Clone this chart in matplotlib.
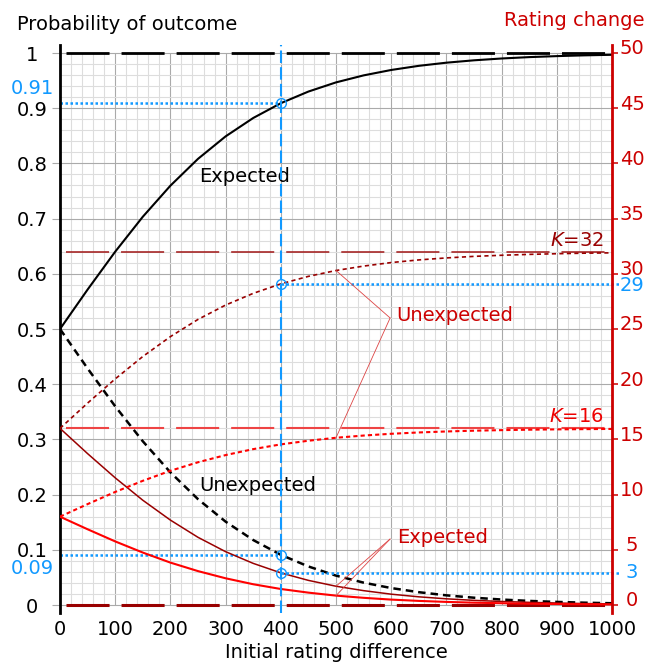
import numpy as np
import matplotlib.pyplot as plt

# rating difference sampled every 50 points
diff = np.arange(0, 1001, 50)

# probability that the higher rated player wins / loses
p_expected = [0.5, 0.5715, 0.6401, 0.7034, 0.7597, 0.8083, 0.8490, 0.8823, 0.9091, 0.9302,
              0.9468, 0.9595, 0.9693, 0.9768, 0.9825, 0.9868, 0.9901, 0.9926, 0.9944, 0.9958, 0.9968]
p_unexpected = [0.5, 0.4285, 0.3599, 0.2966, 0.2403, 0.1917, 0.1510, 0.1177, 0.0909, 0.0698,
                0.0532, 0.0405, 0.0307, 0.0232, 0.0175, 0.0132, 0.0099, 0.0074, 0.0056, 0.0042, 0.0032]

# rating points exchanged for K=32 and K=16
k32_expected = [16.0, 13.71, 11.52, 9.49, 7.69, 6.13, 4.83, 3.77, 2.91, 2.23, 1.70,
                1.30, 0.98, 0.74, 0.56, 0.42, 0.32, 0.24, 0.18, 0.13, 0.10]
k32_unexpected = [16.0, 18.29, 20.48, 22.51, 24.31, 25.87, 27.17, 28.23, 29.09, 29.77, 30.30,
                  30.70, 31.02, 31.26, 31.44, 31.58, 31.68, 31.76, 31.82, 31.87, 31.90]
k16_expected = [8.0, 6.86, 5.76, 4.75, 3.84, 3.07, 2.42, 1.88, 1.45, 1.12, 0.85,
                0.65, 0.49, 0.37, 0.28, 0.21, 0.16, 0.12, 0.09, 0.07, 0.05]
k16_unexpected = [8.0, 9.14, 10.24, 11.25, 12.16, 12.93, 13.58, 14.12, 14.55, 14.88, 15.15,
                  15.35, 15.51, 15.63, 15.72, 15.79, 15.84, 15.88, 15.91, 15.93, 15.95]

k_values = [32, 16]
marked_diff = 400
note_diff = 500

x_ticks = list(range(0, 1001, 100))
y_ticks = [i / 10 for i in range(11)]
y_ticklabels = ["0"] + [f"{t:.1f}" for t in y_ticks[1:-1]] + ["1"]
r_ticks = list(range(0, 51, 5))

black = "black"
dark_red = "#990000"
red = "#ff0000"
axis_red = "#cc0000"
blue = "#1199ff"
fs = 14


def long_dash(lw):
    # 31pt dashes with 8.6pt gaps, gaps centred on the major grid lines
    on, off = 31 / lw, 8.64 / lw
    return (on + off / 2, (on, off))


fig = plt.figure(figsize=(6.48, 6.64), dpi=100)
ax = fig.add_axes([0.0926, 0.0768, 0.8519, 0.8554])
ylo, yhi = -0.0145, 1.0145
ax.set_xlim(0, 1000)
ax.set_ylim(ylo, yhi)

# grid limited to the plotting range
for x in range(0, 1001, 20):
    major = x % 100 == 0
    ax.vlines(x, 0, 1, color="#aaaaaa" if major else "#dddddd", lw=0.8, zorder=0)
for i in range(51):
    y = i / 50
    major = i % 5 == 0
    ax.hlines(y, 0, 1000, color="#aaaaaa" if major else "#dddddd", lw=0.8, zorder=0)

for s in ["top", "bottom", "right"]:
    ax.spines[s].set_visible(False)
ax.spines["left"].set_linewidth(2)
ax.spines["left"].set_color(black)

ax.set_xticks(x_ticks)
ax.set_yticks(y_ticks)
ax.set_yticklabels(y_ticklabels)
ax.tick_params(axis="x", length=0, pad=5, labelsize=fs)
ax.tick_params(axis="y", length=5.8, width=0.8, color="#aaaaaa", pad=14.4, labelsize=fs)
for lbl in ax.get_yticklabels():
    lbl.set_ha("center")

# probability reference lines and curves
ax.plot([0, 1000], [1, 1], color=black, lw=2, ls=long_dash(2))
ax.plot(diff, p_expected, color=black, lw=1.5)
ax.plot(diff, p_unexpected, color=black, lw=1.8, ls=(0, (3, 2)))

ax.text(335, 0.777, "Expected", fontsize=fs, ha="center", va="center")
ax.text(359, 0.217, "Unexpected", fontsize=fs, ha="center", va="center")

# right axis: rating change
ax2 = ax.twinx()
ax2.set_ylim(ylo * 50, yhi * 50)
for s in ["top", "bottom", "left"]:
    ax2.spines[s].set_visible(False)
ax2.spines["right"].set_color(axis_red)
ax2.spines["right"].set_linewidth(2)
ax2.set_yticks(r_ticks)
ax2.tick_params(axis="y", colors=axis_red, length=4.5, width=1.1, labelright=False)
for r in r_ticks:
    ax2.annotate(str(r), xy=(1, r), xycoords=ax2.get_yaxis_transform(),
                 xytext=(14.4, 2.9), textcoords="offset points",
                 ha="center", va="center", color=axis_red, fontsize=fs)

ax2.plot([0, 1000], [0, 0], color=dark_red, lw=2.2, ls=long_dash(2.2))
ax2.plot([0, 1000], [k_values[0], k_values[0]], color="#a01515", lw=1.1, ls=long_dash(1.1))
ax2.plot([0, 1000], [k_values[1], k_values[1]], color="#ee4444", lw=1.5, ls=long_dash(1.5))

ax2.plot(diff, k32_expected, color=dark_red, lw=1.1)
ax2.plot(diff, k32_unexpected, color=dark_red, lw=1.2, ls=(0, (2.5, 2)))
ax2.plot(diff, k16_expected, color=red, lw=1.5)
ax2.plot(diff, k16_unexpected, color=red, lw=1.5, ls=(0, (2, 1.5)))

ax2.text(985, 33.06, "$K$=32", color=dark_red, fontsize=fs, ha="right", va="center")
ax2.text(985, 17.1, "$K$=16", color="#ee0000", fontsize=fs, ha="right", va="center")

# callouts to the rating change curves
ni = list(diff).index(note_diff)
line_kw = dict(arrowstyle="-", color="#dd4444", lw=0.6, shrinkA=0, shrinkB=0)
for target in [k32_unexpected[ni], k16_unexpected[ni]]:
    ax2.annotate("", xy=(note_diff, target), xytext=(598, 26.0), arrowprops=line_kw)
for target in [k32_expected[ni], k16_expected[ni]]:
    ax2.annotate("", xy=(note_diff, target), xytext=(598, 5.98), arrowprops=line_kw)
ax2.text(610, 26.2, "Unexpected", color=axis_red, fontsize=fs, ha="left", va="center")
ax2.text(610, 6.15, "Expected", color=axis_red, fontsize=fs, ha="left", va="center")

# worked example at a 400 point difference
mi = list(diff).index(marked_diff)
ax2.axvline(marked_diff, color=blue, lw=1.5, ls=(0, (6, 2)))
for p in [p_expected[mi], p_unexpected[mi]]:
    ax.plot([0, marked_diff], [p, p], color=blue, lw=1.8, ls=(0, (1, 1)))
    ax.plot(marked_diff, p, "o", ms=7, mfc="none", mec=blue, mew=1)
for r, dy in [(k32_unexpected[mi], -1.5), (k32_expected[mi], 0.3)]:
    ax2.plot([marked_diff, 1015], [r, r], color=blue, lw=1.8, ls=(0, (1, 1)), clip_on=False)
    ax2.plot(marked_diff, r, "o", ms=7, mfc="none", mec=blue, mew=1)
    ax2.annotate(f"{r:.0f}", xy=(1, r), xycoords=ax2.get_yaxis_transform(),
                 xytext=(14.4, dy), textcoords="offset points",
                 ha="center", va="center", color=blue, fontsize=fs,
                 bbox=dict(facecolor="white", edgecolor="none", pad=0))
for p, dy in [(p_expected[mi], 0.026), (p_unexpected[mi], -0.025)]:
    ax.annotate(f"{p:.2f}", xy=(0, p + dy), xycoords=ax.get_yaxis_transform(),
                xytext=(-20.2, 0), textcoords="offset points",
                ha="center", va="center", color=blue, fontsize=fs)

fig.text(17 / 648, 1 - 25 / 664, "Probability of outcome", fontsize=fs, ha="left", va="center")
fig.text(644 / 648, 1 - 20 / 664, "Rating change", fontsize=fs, color=axis_red, ha="right", va="center")
fig.text(336 / 648, 1 - 652 / 664, "Initial rating difference", fontsize=fs, ha="center", va="center")

fig.savefig("out.png", dpi=100)
